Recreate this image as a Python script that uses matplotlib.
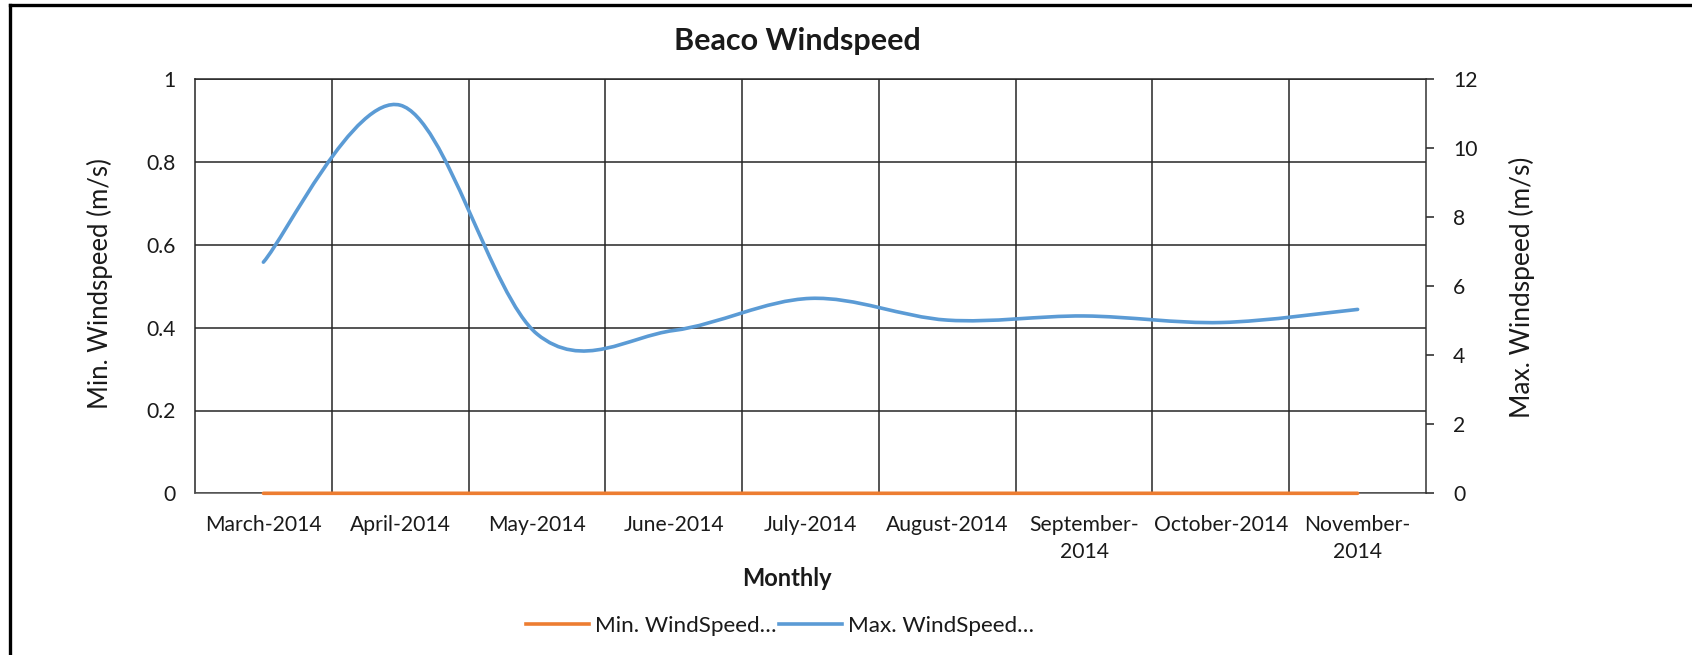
import matplotlib
matplotlib.use('Agg')
import matplotlib.pyplot as plt
from matplotlib.path import Path
from matplotlib.patches import PathPatch
from matplotlib.lines import Line2D
import numpy as np

# ---------------- data ----------------
months = ['March-2014', 'April-2014', 'May-2014', 'June-2014', 'July-2014',
          'August-2014', 'September-\n2014', 'October-2014', 'November-\n2014']
min_speed = [0, 0, 0, 0, 0, 0, 0, 0, 0]
max_speed = [6.7, 11.25, 4.62, 4.72, 5.65, 5.02, 5.14, 4.95, 5.33]
left_ticks = [0, 0.2, 0.4, 0.6, 0.8, 1]
left_labels = ['0', '0.2', '0.4', '0.6', '0.8', '1']
right_ticks = [0, 2, 4, 6, 8, 10, 12]

title = 'Beaco Windspeed'
xlabel = 'Monthly'
ylabel_left = 'Min. Windspeed (m/s)'
ylabel_right = 'Max. Windspeed (m/s)'
legend_labels = ['Min. WindSpeed…', 'Max. WindSpeed…']

ORANGE = '#ED7D31'
BLUE = '#5B9BD5'
TXT = '#1a1a1a'
GRID = '#262626'

plt.rcParams['font.family'] = ['Lato', 'DejaVu Sans']

W, H = 1692, 655
fig = plt.figure(figsize=(W / 100, H / 100), dpi=100)
L, R, T, B = 195, 1426, 79.3, 493.3
ax = fig.add_axes([L / W, 1 - B / H, (R - L) / W, (B - T) / H])
ax2 = ax.twinx()


def smooth_path(xs, ys):
    """Excel-style smoothed line (Catmull-Rom as cubic Bezier)."""
    pts = list(zip(xs, ys))
    n = len(pts)
    verts = [pts[0]]
    codes = [Path.MOVETO]
    for i in range(n - 1):
        p0 = pts[max(i - 1, 0)]
        p1 = pts[i]
        p2 = pts[i + 1]
        p3 = pts[min(i + 2, n - 1)]
        c1 = (p1[0] + (p2[0] - p0[0]) / 6, p1[1] + (p2[1] - p0[1]) / 6)
        c2 = (p2[0] - (p3[0] - p1[0]) / 6, p2[1] - (p3[1] - p1[1]) / 6)
        verts += [c1, c2, p2]
        codes += [Path.CURVE4] * 3
    return Path(verts, codes)


x = np.arange(len(months))
lw = 2.6

# Min series on primary axis
ax.add_patch(PathPatch(smooth_path(x, min_speed), facecolor='none',
                       edgecolor=ORANGE, lw=lw, capstyle='round', zorder=5,
                       clip_on=False))
# Max series on secondary axis
ax2.add_patch(PathPatch(smooth_path(x, max_speed), facecolor='none',
                        edgecolor=BLUE, lw=lw, capstyle='round', zorder=5))

ax.set_xlim(-0.5, len(months) - 0.5)
ax.set_ylim(0, 1)
ax2.set_ylim(0, 12)

ax.set_xticks(x)
ax.set_xticklabels(months, fontsize=15.2, color=TXT, linespacing=1.45)
ax.set_xticks(np.arange(0.5, len(months) - 1, 1), minor=True)
ax.set_yticks(left_ticks)
ax.set_yticklabels(left_labels, fontsize=15.2, color=TXT)
ax2.set_yticks(right_ticks)
ax2.set_yticklabels([str(v) for v in right_ticks], fontsize=15.2, color=TXT)

ax.tick_params(axis='x', which='both', length=0, pad=15.5)
ax.tick_params(axis='y', length=0, pad=14)
ax2.tick_params(axis='y', length=5.5, width=1.2, color='#333333', pad=14,
                direction='out')

ax.grid(axis='y', which='major', color=GRID, lw=1.1)
ax.grid(axis='x', which='minor', color=GRID, lw=1.1)
ax.set_axisbelow(True)

for a in (ax, ax2):
    for s in a.spines.values():
        s.set_linewidth(1.1)
        s.set_color(GRID)
ax.spines['bottom'].set_color('#555555')
ax2.spines['bottom'].set_visible(False)
ax2.spines['left'].set_visible(False)
ax2.spines['top'].set_visible(False)
ax.spines['right'].set_visible(False)
ax2.spines['right'].set_color('#333333')

# texts
fig.text(797 / W, 1 - 41 / H, title, ha='center', va='center',
         fontsize=22, fontweight='bold', color=TXT)
fig.text(787 / W, 1 - 578 / H, xlabel, ha='center', va='center',
         fontsize=17, fontweight='bold', color=TXT)
fig.text(100 / W, 1 - 284 / H, ylabel_left, ha='center', va='center',
         rotation=90, fontsize=18.5, color=TXT)
fig.text(1522 / W, 1 - 287 / H, ylabel_right, ha='center', va='center',
         rotation=90, fontsize=19, color=TXT)

# legend
handles = [Line2D([], [], color=ORANGE, lw=lw),
           Line2D([], [], color=BLUE, lw=lw)]
fig.legend(handles, legend_labels, loc='center',
           bbox_to_anchor=(780 / W, 1 - 626 / H), ncol=2, frameon=False,
           handlelength=2.8, handletextpad=0.25, columnspacing=0.15,
           fontsize=16.2, labelcolor=TXT)

# outer frame (left and top edges)
fig.add_artist(Line2D([9.5 / W, 9.5 / W], [0, 1 - 5 / H],
                      transform=fig.transFigure, color='black', lw=2.4))
fig.add_artist(Line2D([9.5 / W, 1], [1 - 5 / H, 1 - 5 / H],
                      transform=fig.transFigure, color='black', lw=2.4))

fig.savefig('out.png', dpi=100, facecolor='white')
